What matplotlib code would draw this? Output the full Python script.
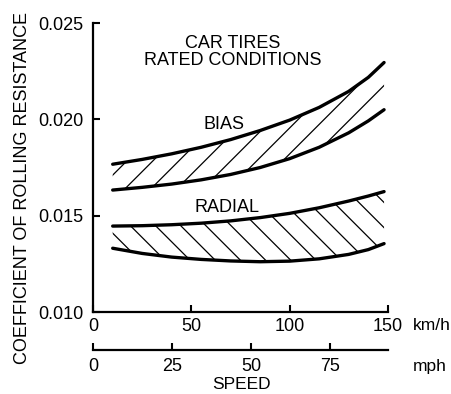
import numpy as np
import matplotlib
matplotlib.use("Agg")
import matplotlib.pyplot as plt
from matplotlib.patches import Polygon

plt.rcParams['font.family'] = ['Liberation Sans', 'DejaVu Sans']

# speed in km/h where the curves were read
speed_kmh = [10, 25, 40, 55, 70, 85, 100, 115, 130, 140, 148]
bias_upper = [0.01767, 0.01792, 0.01821, 0.01855, 0.01895, 0.01942, 0.01996, 0.02062, 0.02145, 0.02218, 0.02295]
bias_lower = [0.01633, 0.01647, 0.01664, 0.01686, 0.01714, 0.01750, 0.01796, 0.01855, 0.01930, 0.01992, 0.02050]
radial_upper = [0.01446, 0.01448, 0.01453, 0.01461, 0.01473, 0.01490, 0.01512, 0.01541, 0.01576, 0.01602, 0.01625]
radial_lower = [0.01331, 0.01304, 0.01285, 0.01273, 0.01265, 0.01261, 0.01264, 0.01276, 0.01299, 0.01324, 0.01355]

kmh_ticks = [0, 50, 100, 150]
mph_ticks = [0, 25, 50, 75]
y_ticks = [0.010, 0.015, 0.020, 0.025]

fs = 13

fig = plt.figure(figsize=(4.52, 3.94), dpi=100)
ax = fig.add_axes([0.2058, 0.2081, 0.6526, 0.7335])
ax.set_xlim(0, 150)
ax.set_ylim(0.010, 0.025)

for s in ['top', 'right']:
    ax.spines[s].set_visible(False)
for s in ['left', 'bottom']:
    ax.spines[s].set_linewidth(1.6)

ax.set_xticks(kmh_ticks)
ax.set_yticks(y_ticks)
ax.set_yticklabels([f"{v:.3f}" for v in y_ticks])
ax.tick_params(axis='x', direction='in', length=5, width=1.5, pad=4, labelsize=fs)
ax.tick_params(axis='y', direction='in', length=5, width=1.5, pad=7, labelsize=fs)

# mph scale below
sec = ax.secondary_xaxis(-0.131, functions=(lambda k: k / 1.609344, lambda m: m * 1.609344))
sec.set_xticks(mph_ticks)
sec.tick_params(direction='in', length=5, width=1.5, pad=6, labelsize=fs)
sec.spines['bottom'].set_linewidth(1.6)

# 45 degree slope (in pixels) expressed in data units
p0 = ax.transData.transform((0, 0.010))
p1 = ax.transData.transform((1, 0.011))
slope = (p1[0] - p0[0]) / ((p1[1] - p0[1]) / 0.001)


def hatch_band(upper, lower, sign, start, step, ref):
    verts = list(zip(speed_kmh, upper)) + list(zip(speed_kmh[::-1], lower[::-1]))
    clip = Polygon(verts, closed=True, transform=ax.transData)
    xs = np.array([-40, 200])
    c = start - 6 * step
    while c < 220:
        ln, = ax.plot(xs, ref + sign * slope * (xs - c), color='black', lw=0.9)
        ln.set_clip_path(clip)
        c += step
    ax.plot(speed_kmh, upper, color='black', lw=2.4, solid_capstyle='round')
    ax.plot(speed_kmh, lower, color='black', lw=2.4, solid_capstyle='round')


hatch_band(bias_upper, bias_lower, 1, 16.3, 13.2, 0.0164)
hatch_band(radial_upper, radial_lower, -1, 18.8, 12.8, 0.0145)

ax.text(71, 0.0235, "CAR TIRES\nRATED CONDITIONS", ha='center', va='center',
        fontsize=fs, linespacing=1.0)
ax.text(66.5, 0.01971, "BIAS", ha='center', va='center', fontsize=fs)
ax.text(68, 0.01545, "RADIAL", ha='center', va='center', fontsize=fs)

ax.text(1.083, -0.045, "km/h", transform=ax.transAxes, ha='left', va='center', fontsize=12.5)
ax.text(1.083, -0.19, "mph", transform=ax.transAxes, ha='left', va='center', fontsize=12.5)
ax.text(0.505, -0.252, "SPEED", transform=ax.transAxes, ha='center', va='center', fontsize=12.5)

fig.text(0.049, 0.523, "COEFFICIENT OF ROLLING RESISTANCE", rotation=90,
         ha='center', va='center', fontsize=fs)

fig.savefig("out.png", dpi=100)
